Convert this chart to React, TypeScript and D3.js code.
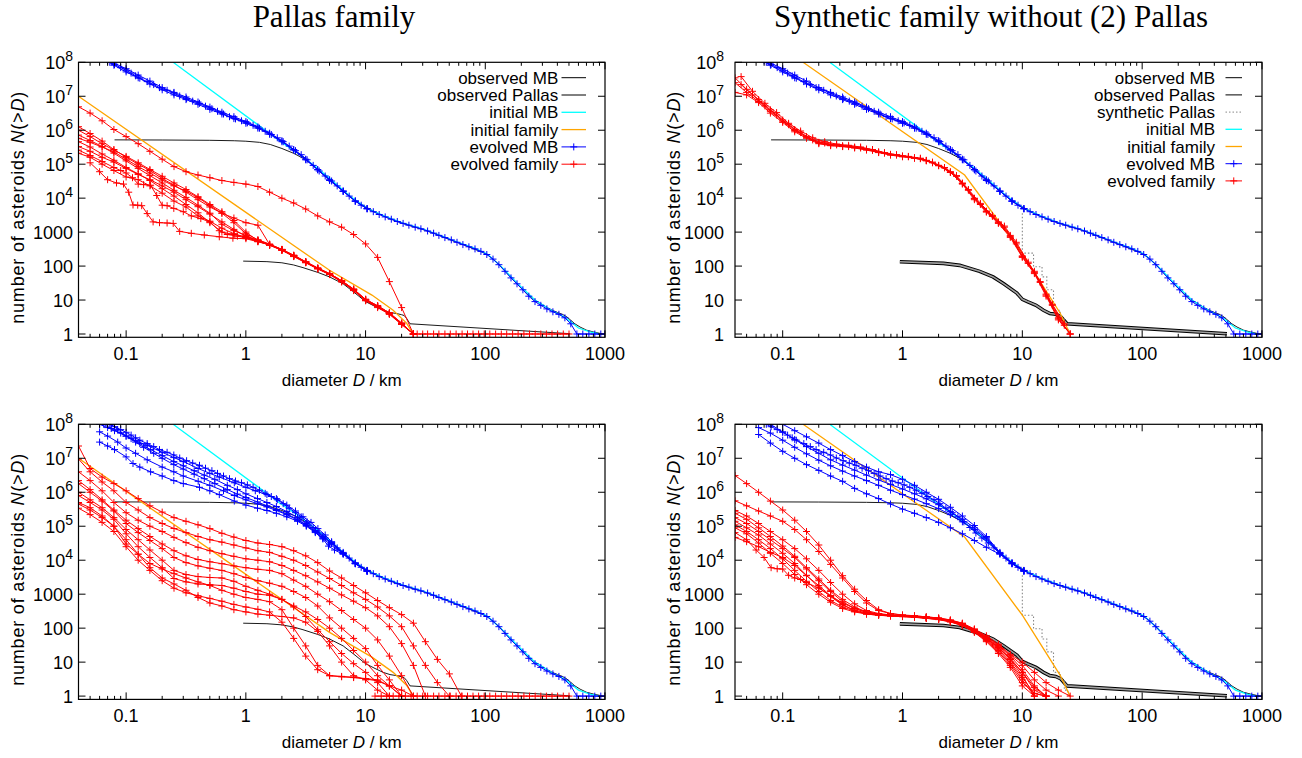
import React from "react";
import * as d3 from "d3";

type Pt = [number, number];

// ---------- shared grids (diameters, km) ----------
const gridR = [0.04, 0.05, 0.063, 0.079, 0.1, 0.126, 0.158, 0.2, 0.251, 0.316, 0.398, 0.501, 0.631, 0.794, 1, 1.26, 1.58, 2, 2.51, 3.16, 3.98, 5.01, 6.31, 7.94, 10, 12.6, 15.8, 20, 25.1, 31.6, 39.8, 50.1, 63.1];
const gridH = [0.045, 0.056, 0.071, 0.089, 0.112, 0.141, 0.178, 0.224, 0.282, 0.355, 0.447, 0.562, 0.708, 0.891, 1.12, 1.41, 1.78, 2.24, 2.82, 3.55, 4.47, 5.62, 7.08, 8.91, 11.2, 14.1, 17.8, 22.4];
const onGrid = (grid: number[], ns: number[]): Pt[] => ns.map((n, i) => [grid[i], n] as Pt);

// ---------- tick labels ----------
const xMajorTicks = [0.1, 1, 10, 100, 1000];
const xTickLabels = ["0.1", "1", "10", "100", "1000"];
const yMajorTicks = [1, 10, 100, 1000, 1e4, 1e5, 1e6, 1e7, 1e8];
const yTickExp = [0, 1, 2, 3, 4, 5, 6, 7, 8];

// ---------- common curves ----------
const observedMB: Pt[] = [[0.08,5.2e5],[0.2,5.15e5],[0.5,5.05e5],[0.8,4.9e5],[1,4.75e5],[1.3,4.4e5],[1.6,3.8e5],[2,2.9e5],[2.5,2.1e5],[3,1.5e5],[3.5,1.05e5],[4,7.3e4],[5,3.7e4],[6,2.1e4],[7,1.35e4],[8.2,8400],[10,5600],[12,3900],[15,2700],[20,1850],[25,1450],[30,1200],[40,840],[50,610],[60,480],[70,390],[80,320],[90,275],[100,235],[110,190],[120,145],[135,100],[150,65],[170,40],[200,22],[230,14],[260,10],[300,7.3],[350,5.3],[400,4.3],[440,3.8],[480,3.2],[520,2.5],[560,2],[620,1.6],[700,1.3],[800,1.15],[900,1.05],[950,1]];
const initialMB: Pt[] = [[0.247,1e8],[2.05,4.1e5],[2.9,1.8e5],[4,7.5e4],[5.2,3.4e4],[7.3,1.2e4],[10.3,5000],[14.6,2900],[20.6,1850],[29,1300],[41,830],[58,520],[82,330],[103,230],[116,160],[146,75],[184,32],[260,10],[367,4.7],[462,3.1],[518,2.3],[600,1.5],[750,1.15],[900,1]];
const observedPallas: Pt[] = [[0.95,140],[1.5,135],[2,125],[2.5,108],[3,90],[4,65],[5,48],[6.5,30],[8,17],[10,9],[12,6.5],[14,5],[16,4.3],[18.2,4],[20,3.7],[21,3.5],[22,2.9],[23.5,2],[512,1.02]];
const observedPallasR: Pt[] = [[0.95,134],[2.2,120],[3,105],[4.4,70],[5.7,48],[7,30],[9,16],[10,10.5],[11,9],[13,7],[15,5],[17,4],[19,3.8],[21,3.2],[23.6,2],[510,1.02]];
const syntheticPallas: Pt[] = [[10,3600],[10,240],[12.4,240],[12.4,96],[14.6,96],[14.6,48],[16,48],[16,20],[18.2,20],[18.2,5],[20.7,5],[20.7,3],[22.4,3],[22.4,1.5],[24,1.5],[24,1]];
const initialFamilyL: Pt[] = [[0.04,1e7],[5,75],[11.3,14],[17,5],[22,2.1],[25,1]];
const initialFamilyR: Pt[] = [[0.148,1e8],[3.3,4.8e4],[10,240],[20.7,4.1],[25,1]];

// ---------- evolved main belt ----------
const evolvedMB: Pt[] = [[0.073,1e8],[0.08,8.5e7],[0.09,7e7],[0.1,5.8e7],[0.11,4.8e7],[0.12,4e7],[0.13,3.4e7],[0.15,2.7e7],[0.17,2.2e7],[0.19,1.8e7],[0.22,1.5e7],[0.25,1.25e7],[0.28,1.02e7],[0.32,8.5e6],[0.36,7.2e6],[0.41,6.2e6],[0.46,5.1e6],[0.52,4.3e6],[0.58,3.6e6],[0.65,3e6],[0.73,2.5e6],[0.82,2.15e6],[0.92,1.9e6],[1.03,1.65e6],[1.15,1.4e6],[1.3,1.15e6],[1.45,9.3e5],[1.63,7.5e5],[1.83,6e5],[2.05,4.6e5],[2.3,3.4e5],[2.6,2.5e5],[2.9,1.9e5],[3.25,1.35e5],[3.65,9.2e4],[4.1,6.3e4],[4.6,4.5e4],[5.2,3.2e4],[5.8,2.3e4],[6.5,1.6e4],[7.3,1.15e4],[8.2,8200],[9.2,6200],[10.3,4900],[11.6,4000],[13,3300],[14.6,2800],[16.4,2400],[18.4,2050],[20.6,1800],[23,1600],[26,1400],[29,1250],[33,1080],[37,930],[41,800],[46,690],[52,590],[58,500],[65,430],[73,370],[82,320],[92,270],[103,220],[116,160],[130,110],[146,70],[164,45],[184,30],[206,20],[231,13],[260,9],[291,7],[327,5.5],[367,4.5],[412,3.8],[462,3],[518,2],[582,1],[653,1],[733,1],[822,1],[923,1],[1000,1]];
const mbTopA: Pt[] = [[0.079,9.5e7],[0.1,6.5e7],[0.126,4.2e7],[0.158,2.8e7],[0.2,1.8e7],[0.251,1.3e7],[0.316,9.5e6],[0.398,6.8e6],[0.501,4.8e6],[0.631,3.4e6],[0.794,2.5e6],[1,1.8e6],[1.26,1.25e6],[1.58,8.2e5],[2,4.9e5],[2.51,2.7e5],[3.16,1.4e5],[3.98,7e4],[5.01,3.5e4],[6.5,1.6e4],[8.2,8200],[10.3,4900]];
const mbTopB: Pt[] = [[0.07,1.1e8],[0.079,8.2e7],[0.1,5.2e7],[0.126,3.5e7],[0.158,2.3e7],[0.2,1.55e7],[0.251,1.1e7],[0.316,8e6],[0.398,5.8e6],[0.501,4.1e6],[0.631,3e6],[0.794,2.2e6],[1,1.6e6],[1.26,1.15e6],[1.58,7.6e5],[2,4.6e5],[2.51,2.6e5],[3.16,1.35e5],[3.98,6.8e4],[5.01,3.3e4],[6.5,1.6e4],[8.2,8200],[10.3,4900]];
const mbBL1: Pt[] = [[0.06,1e8],[0.07,8e7],[0.08,6.5e7],[0.1,4.5e7],[0.12,3.3e7],[0.15,2.4e7],[0.2,1.5e7],[0.25,1.05e7],[0.3,8e6],[0.4,5e6],[0.5,3.6e6],[0.6,2.8e6],[0.8,1.9e6],[1,1.4e6],[1.2,1.1e6],[1.5,8.5e5],[1.8,6.5e5],[2.2,4.2e5],[2.6,2.8e5],[3,1.9e5],[3.5,1.3e5],[4,8.5e4],[4.6,5.5e4],[5.2,3.5e4],[6.5,1.7e4],[8.2,8400],[10.3,5000]];
const mbBL2: Pt[] = [[0.065,1e8],[0.075,7.5e7],[0.09,5.5e7],[0.11,3.8e7],[0.13,2.7e7],[0.16,1.8e7],[0.2,1.2e7],[0.25,8e6],[0.3,6e6],[0.37,4.3e6],[0.45,3.2e6],[0.55,2.4e6],[0.7,1.6e6],[0.85,1.2e6],[1,9e5],[1.25,6.5e5],[1.5,5e5],[1.8,3.8e5],[2.2,2.7e5],[2.7,1.8e5],[3.2,1.2e5],[3.8,7.5e4],[4.4,5e4],[5.2,3.3e4],[6.5,1.6e4],[8.2,8000],[10.3,4800]];
const mbBL3: Pt[] = [[0.075,1e8],[0.085,7e7],[0.1,4.5e7],[0.12,3e7],[0.14,2.1e7],[0.17,1.4e7],[0.2,1e7],[0.25,6.5e6],[0.3,4.8e6],[0.37,3.4e6],[0.45,2.5e6],[0.55,1.8e6],[0.7,1.2e6],[0.85,8.8e5],[1,7e5],[1.25,5.2e5],[1.5,4e5],[1.8,3.1e5],[2.2,2.3e5],[2.7,1.6e5],[3.2,1.1e5],[3.8,7e4],[4.4,4.6e4],[5.2,3.1e4],[6.5,1.55e4],[8.2,8000],[10.3,4800]];
const mbBL4: Pt[] = [[0.06,3e7],[0.07,2.3e7],[0.08,1.8e7],[0.1,1.1e7],[0.114,7e6],[0.13,5.5e6],[0.16,4e6],[0.2,3e6],[0.25,2.2e6],[0.3,1.8e6],[0.41,1.4e6],[0.5,1.1e6],[0.6,8.5e5],[0.8,5.5e5],[1,4.2e5],[1.25,3.4e5],[1.5,2.9e5],[1.8,2.4e5],[2.2,1.9e5],[2.7,1.4e5],[3.2,1e5],[3.8,6.5e4],[4.4,4.2e4],[4.9,2.6e4],[5.5,2e4],[6.5,1.5e4],[8.2,7800],[10.3,4700]];
const mbBL5: Pt[] = [[0.06,6e7],[0.07,4.5e7],[0.085,3e7],[0.1,2e7],[0.12,1.4e7],[0.15,9e6],[0.2,5.5e6],[0.25,4e6],[0.3,3e6],[0.4,2.1e6],[0.5,1.6e6],[0.65,1.1e6],[0.8,8e5],[1,6e5],[1.25,4.6e5],[1.5,3.7e5],[1.8,2.9e5],[2.2,2.2e5],[2.7,1.5e5],[3.2,1.05e5],[3.8,6.8e4],[4.4,4.4e4],[5,3e4],[6.5,1.55e4],[8.2,8000],[10.3,4800]];
const mbBR1: Pt[] = [[0.1,1e8],[0.126,6.5e7],[0.158,4.3e7],[0.2,2.8e7],[0.251,1.8e7],[0.316,1.2e7],[0.398,8e6],[0.501,5.5e6],[0.631,4e6],[0.794,3.3e6],[1,2.4e6],[1.26,1.6e6],[1.58,1e6],[2,6.2e5],[2.51,3.6e5],[3.16,2e5],[3.98,1.05e5],[5.01,5e4],[6.5,1.7e4],[8.2,8400],[10.3,5000]];
const mbBR2: Pt[] = [[0.063,5e7],[0.079,2.8e7],[0.1,1.6e7],[0.126,1e7],[0.158,6.5e6],[0.2,4.4e6],[0.251,3e6],[0.316,2.1e6],[0.398,1.3e6],[0.501,9e5],[0.631,6.5e5],[0.794,4.5e5],[1,3.2e5],[1.26,2.4e5],[1.58,1.8e5],[2,1.3e5],[2.51,9e4],[3.16,6e4],[3.98,3.8e4],[5.01,2.4e4],[6.5,1.5e4],[8.2,7800],[10.3,4700]];
const mbBR3: Pt[] = [[0.079,1e8],[0.1,6e7],[0.126,3.6e7],[0.158,2.2e7],[0.2,1.4e7],[0.251,9e6],[0.316,6.3e6],[0.398,4.5e6],[0.501,3.2e6],[0.631,2.3e6],[0.794,1.7e6],[1,1.25e6],[1.26,9e5],[1.58,6.4e5],[2,4.3e5],[2.51,2.7e5],[3.16,1.6e5],[3.98,9e4],[5.01,4.6e4],[6.5,1.6e4],[8.2,8200],[10.3,4900]];
const mbBR4: Pt[] = [[0.063,8e7],[0.079,5.5e7],[0.1,3.4e7],[0.126,2.1e7],[0.158,1.35e7],[0.2,8.8e6],[0.251,6e6],[0.316,4.2e6],[0.398,3e6],[0.501,2.2e6],[0.631,1.6e6],[0.794,1.15e6],[1,8.5e5],[1.26,6.3e5],[1.58,4.6e5],[2,3.3e5],[2.51,2.2e5],[3.16,1.35e5],[3.98,8e4],[5.01,4.2e4],[6.5,1.55e4],[8.2,8000],[10.3,4800]];

// ---------- evolved family, top-left ----------
const famTL1 = [4.9e6,3.2e6,1.9e6,1.05e6,6.5e5,4e5,2.4e5,1.4e5,8.5e4,6e4,4.8e4,4e4,3.3e4,2.9e4,2.6e4,2.2e4,1.5e4,1e4,7200,4800,3000,2000,1400,850,450,180,35,6,1];
const famTL2 = [1.27e6,8e5,4.8e5,2.7e5,1.6e5,1e5,6.5e4,3.8e4,2.4e4,1.5e4,9000,5500,3600,2600,1900,1600,430,310,210,135,88,60,37,21,10.5,6.8,4.2,2.1,1];
const famTL3 = [1e6,6.5e5,4e5,2.6e5,1.7e5,1.1e5,7e4,4.4e4,2.8e4,1.8e4,1.1e4,6500,4000,2200,1000,560,430,300,200,130,85,58,36,20,10,6.5,4,2,1];
const famTL4 = [7.2e5,5e5,3.3e5,2.1e5,1.25e5,7.5e4,4.6e4,2.8e4,1.7e4,1.05e4,6200,3600,1700,1100,800,560,410,290,190,125,82,56,34,19,9.5,6,3.8,1.9,1];
const famTL5 = [5.8e5,4.4e5,3.2e5,2.3e5,1.4e5,8.5e4,5.5e4,3.4e4,2.3e4,1.6e4,1.05e4,6000,3600,1900,900,600,440,310,205,135,88,60,37,21,10.5,6.8,4.2,2.1,1];
const famTL6 = [4.6e5,3.2e5,2e5,1.3e5,8e4,5.2e4,3.3e4,1.9e4,1.15e4,6500,3700,1900,1000,850,720,580,440,305,200,130,85,58,36,20,10,6.5,4,2,1];
const famTL7 = [3.3e5,2.4e5,1.6e5,1.15e5,7.5e4,5e4,3.5e4,2.3e4,1.5e4,9000,5600,3400,2000,1200,760,560,420,295,195,128,84,57,35,19.5,10,6.3,3.9,1.95,1];
const famTL8 = [2.1e5,1.6e5,1e5,6.5e4,4.2e4,3.5e4,2.3e4,1.4e4,8200,5500,3000,2100,1300,900,700,540,415,298,198,130,85,58,36,20,10,6.5,4,2,1];
const famTL9: Pt[] = [[0.05,1.1e5],[0.06,6e4],[0.07,3.5e4],[0.083,2.8e4],[0.095,2.6e4],[0.105,1.5e4],[0.114,6300],[0.125,6200],[0.135,6000],[0.15,3500],[0.168,2000],[0.19,1900],[0.22,1850],[0.247,1800],[0.28,1050],[0.35,920],[0.45,820],[0.6,730],[0.78,660],[1,640],[1.26,520],[1.58,420],[2,300],[2.51,200],[3.16,130],[3.98,85],[5.01,58],[6.31,36],[7.94,20],[10,10],[12.6,6.5],[15.8,4],[20,2],[25.1,1]];
const famTL10: Pt[] = [[0.04,2.6e5],[0.05,1.8e5],[0.063,1.2e5],[0.079,8e4],[0.09,6.5e4],[0.1,5.5e4],[0.113,4e4],[0.126,2.6e4],[0.14,2.5e4],[0.16,2.4e4],[0.18,1.2e4],[0.2,6200],[0.22,6000],[0.25,5000],[0.3,4000],[0.35,3000],[0.42,2500],[0.5,2000],[0.6,1100],[0.7,850],[0.85,760],[1,680],[1.26,530],[1.58,425],[2,305],[2.51,205],[3.16,132],[3.98,86],[5.01,59],[6.31,37],[7.94,20.5],[10,10.2],[12.6,6.6],[15.8,4.1],[20,2.05],[25.1,1]];
const flatTL: Pt[] = [[25.1,1],[27,1],[30,1],[33,1],[37,1],[41,1],[46,1],[51,1],[57,1],[64,1],[71,1],[79,1],[88,1],[98,1],[109,1],[122,1],[136,1],[151,1],[169,1],[188,1],[210,1],[234,1],[261,1],[291,1],[324,1],[361,1],[402,1],[448,1],[500,1]];

// ---------- evolved family, top-right ----------
const famTR1 = [3.5e7,1.6e7,8e6,4e6,2e6,1.05e6,6.5e5,4.4e5,3.8e5,3.5e5,3.2e5,2.8e5,2.3e5,1.95e5,1.75e5,1.55e5,1.3e5,9.3e4,6e4,2.8e4,1e4,4200,2000,800,200,70,15,3,1];
const famTR2 = [2.2e7,1.1e7,5.2e6,2.8e6,1.45e6,8.5e5,5.2e5,4.2e5,3.7e5,3.3e5,3e5,2.55e5,2.1e5,1.85e5,1.65e5,1.45e5,1.1e5,7.8e4,4.4e4,1.7e4,6500,2900,1400,450,120,33,7,1.8];
const famTR3 = [1.3e7,1.1e7,6.5e6,3.2e6,1.7e6,9e5,5.8e5,4e5,3.5e5,3.3e5,3e5,2.6e5,2.2e5,1.85e5,1.65e5,1.5e5,1.25e5,9e4,5.7e4,2.6e4,9000,3900,1800,700,180,60,13,2.6,1];
const famTR4 = [3.8e7,1.4e7,6.2e6,3.3e6,1.6e6,9.5e5,6e5,4.6e5,3.9e5,3.6e5,3.2e5,2.7e5,2.2e5,1.9e5,1.7e5,1.5e5,1.15e5,8e4,4.6e4,1.8e4,7000,3100,1500,500,130,35,7.5,2];
const famTR5 = [2.5e7,1.3e7,7e6,3.6e6,1.85e6,9.8e5,6.2e5,4.2e5,3.6e5,3.35e5,3.1e5,2.7e5,2.25e5,1.9e5,1.7e5,1.52e5,1.28e5,9.1e4,5.8e4,2.7e4,9700,4000,1900,750,190,65,14,2.8,1];

// ---------- evolved family, bottom-left ----------
const famBL1 = [2.3e7,5e6,2.8e6,1.8e6,1.1e6,6.5e5,4e5,2.6e5,1.8e5,1.4e5,1.1e5,8.5e4,6.2e4,4.8e4,3.8e4,3.2e4,2.9e4,2.5e4,1.9e4,1.35e4,8500,4800,3000,1800,1100,650,400,250,140,40,12,4.5,1];
const famBL2 = [9.5e6,4e6,2e6,1.1e6,5e5,3e5,1.8e5,1.2e5,8.6e4,6.5e4,5e4,4e4,3.4e4,2.8e4,2.3e4,1.9e4,1.7e4,1.3e4,1e4,7000,4500,2900,1800,1100,700,420,230,110,30,8,2.5,1];
const famBL3 = [4e6,2.2e6,1.1e6,5e5,2.5e5,1.5e5,1e5,7e4,4.7e4,3.3e4,2.4e4,1.9e4,1.55e4,1.3e4,1.1e4,1e4,9000,7000,5000,3500,2300,1500,950,620,400,230,110,35,8,1];
const famBL4 = [2.2e6,1.2e6,6e5,3e5,1.5e5,8.5e4,5e4,3e4,1.9e4,1.35e4,1.05e4,9000,7900,6800,6000,5400,5000,4000,2600,1700,1000,600,330,180,100,45,15,4,1];
const famBL5 = [1.8e6,1e6,5.5e5,2.8e5,1.2e5,6.5e4,3.8e4,2.2e4,1.2e4,8500,6800,5800,5000,4000,3100,2500,2100,1700,1200,800,450,200,100,50,25,8,3,1];
const famBL6 = [1e6,6e5,3.5e5,1.8e5,8e4,4e4,2e4,1e4,5000,3800,3300,3100,3000,2400,1700,1300,1000,700,450,300,180,100,50,22,10,4,2,1];
const famBL7 = [8e5,5e5,3e5,1.6e5,6e4,2.5e4,1.2e4,6000,2900,2300,2000,1900,1800,1500,1200,1000,930,700,420,220,90,40,18,9,5,2.5,1];
const famBL8 = [4.5e5,3e5,1.8e5,1e5,4e4,1.5e4,6000,3000,2000,1300,800,550,450,350,300,260,240,220,200,150,80,30,10,4,3,1.5,1];
const famBL9 = [3.4e5,2.2e5,1.3e5,7e4,2.5e4,1e4,5000,2500,1500,1100,900,750,620,500,420,360,300,150,50,15,6,4,3.7,3.5,3.3,3,2,1];
const famBL10 = [5e5,3.5e5,2e5,1e5,3e4,1.5e4,8000,5500,4000,3000,2300,1800,1300,1000,800,700,600,350,100,30,8,4,3.8,3.6,3.2,2.8,2,1.5,1];
const flatBL: Pt[] = [[12,1],[13.5,1],[15,1],[17,1],[19,1],[21.5,1],[24,1],[27,1],[30,1],[33,1],[37,1],[41,1],[46,1],[51,1],[57,1],[64,1],[71,1],[79,1],[88,1],[98,1],[109,1],[122,1],[136,1],[151,1],[169,1],[188,1],[210,1],[234,1],[261,1],[291,1],[324,1],[361,1],[402,1],[448,1],[500,1]];

// ---------- evolved family, bottom-right ----------
const famBR1 = [3.1e6,1.8e6,1e6,5.5e5,3e5,1.5e5,7e4,2.8e4,1e4,3500,1400,650,350,270,240,230,215,200,175,140,95,60,34,17,10,5,2.5,1.5,1];
const famBR2 = [5.6e5,4e5,2.8e5,2e5,1.4e5,8e4,4e4,1.8e4,7500,3000,1200,550,330,270,245,232,215,198,172,138,92,55,32,16,8,3,1.5,1];
const famBR3 = [2.9e5,2e5,1.2e5,7e4,4e4,2.2e4,1.1e4,5000,2200,1000,520,330,270,245,230,220,208,192,168,135,90,52,30,15,6,2,1];
const famBR4 = [2.4e5,1.6e5,9e4,5e4,2.6e4,1.3e4,6000,2800,1300,700,420,300,260,240,228,218,205,190,165,130,88,50,28,13,5,1.5,1];
const famBR5 = [1.8e5,1.2e5,7e4,4e4,2.2e4,1.2e4,5500,2500,1200,600,380,290,255,238,226,216,203,188,163,128,85,48,26,12,4,1];
const famBR6 = [1.4e5,9e4,5.5e4,3e4,1.6e4,8000,3600,1600,850,480,340,280,250,235,224,214,200,185,160,125,82,46,24,10,3.5,1.2,1];
const famBR7 = [1.1e5,7e4,4e4,2.2e4,1.1e4,5000,2400,1200,650,420,320,270,245,232,222,212,198,182,158,122,80,44,22,9,3,1];
const famBR8 = [9e4,6e4,3.2e4,1.6e4,8000,3800,1900,1000,580,380,300,260,240,230,220,210,196,180,155,120,78,42,20,8,2.5,1.2,1];
const famBR9: Pt[] = [[0.04,6.5e4],[0.05,4e4],[0.06,2e4],[0.07,1.2e4],[0.08,6000],[0.09,5600],[0.1,5500],[0.112,3600],[0.126,3000],[0.141,2700],[0.158,2200],[0.2,1500],[0.251,900],[0.316,550],[0.398,380],[0.501,300],[0.631,260],[0.794,240],[1,230],[1.26,220],[1.58,208],[2,193],[2.51,168],[3.16,132],[3.98,88],[5.01,50],[6.31,27],[7.94,12],[10,5],[12.6,1.8],[15.8,1]];
const famBR10 = [4.7e4,3.5e4,2.5e4,1.7e4,1.2e4,7000,3500,1800,900,500,320,260,240,226,218,208,194,178,152,118,75,40,18,7,2,1];

// ---------- styling ----------
const BLACK = "#000000", CYAN = "#00ffff", ORANGE = "#ffa500", BLUE = "#0000ff", RED = "#ff0000", GREY = "#888888";
const SANS = "'Liberation Sans', Arial, Helvetica, sans-serif";
const SERIF = "'Liberation Serif', 'Times New Roman', serif";

type Series = { d: Pt[]; c: string; w?: number; m?: boolean; dash?: string; band?: boolean };

const blueRuns = (extra: Pt[][]): Series[] => [...extra.map((d) => ({ d, c: BLUE, m: true })), { d: evolvedMB, c: BLUE, m: true }];
const redR = (ns: number[]): Series => ({ d: onGrid(gridR, ns), c: RED, m: true });
const redH = (ns: number[]): Series => ({ d: onGrid(gridH, ns), c: RED, m: true });
const redP = (d: Pt[]): Series => ({ d, c: RED, m: true });

const panels = [
  {
    key: "tl", x0: 78.5, x1: 605, y0: 62.3, y1: 337.3, labOff: 5.5, ylabX: 17,
    series: [
      { d: observedMB, c: BLACK, w: 0.9 },
      { d: observedPallas, c: BLACK, w: 0.9 },
      { d: initialMB, c: CYAN, w: 1.3 },
      { d: initialFamilyL, c: ORANGE, w: 1.3 },
      ...blueRuns([mbTopA, mbTopB]),
      ...[famTL1, famTL2, famTL3, famTL4, famTL5, famTL6, famTL7, famTL8].map(redR),
      redP(famTL9), redP(famTL10), redP(flatTL),
    ] as Series[],
    legend: { xText: 558.3, xs0: 561.5, xs1: 586, y0: 77.7, dy: 17.3, synthetic: false },
  },
  {
    key: "tr", x0: 735, x1: 1262, y0: 62.3, y1: 337.3, labOff: 11, ylabX: 673,
    series: [
      { d: observedMB, c: BLACK, w: 0.9 },
      { d: observedPallasR, c: BLACK, w: 0.9, band: true },
      { d: syntheticPallas, c: GREY, w: 1.1, dash: "1.5,2" },
      { d: initialMB, c: CYAN, w: 1.3 },
      { d: initialFamilyR, c: ORANGE, w: 1.3 },
      ...blueRuns([mbTopA, mbTopB]),
      redR(famTR1), redH(famTR2), redR(famTR3), redH(famTR4), redR(famTR5),
    ] as Series[],
    legend: { xText: 1215, xs0: 1225.5, xs1: 1242, y0: 77.7, dy: 17.2, synthetic: true },
  },
  {
    key: "bl", x0: 78.5, x1: 605, y0: 424.3, y1: 699.4, labOff: 5.5, ylabX: 17,
    series: [
      { d: observedMB, c: BLACK, w: 0.9 },
      { d: observedPallas, c: BLACK, w: 0.9 },
      { d: initialMB, c: CYAN, w: 1.3 },
      { d: initialFamilyL, c: ORANGE, w: 1.3 },
      ...blueRuns([mbBL1, mbBL2, mbBL3, mbBL4, mbBL5]),
      ...[famBL1, famBL2, famBL3, famBL4, famBL5, famBL6, famBL7, famBL8, famBL9, famBL10].map(redR),
      redP(flatBL),
    ] as Series[],
    legend: null,
  },
  {
    key: "br", x0: 735, x1: 1262, y0: 424.3, y1: 699.4, labOff: 11, ylabX: 673,
    series: [
      { d: observedMB, c: BLACK, w: 0.9 },
      { d: observedPallasR, c: BLACK, w: 0.9, band: true },
      { d: syntheticPallas, c: GREY, w: 1.1, dash: "1.5,2" },
      { d: initialMB, c: CYAN, w: 1.3 },
      { d: initialFamilyR, c: ORANGE, w: 1.3 },
      ...blueRuns([mbBR1, mbBR2, mbBR3, mbBR4]),
      ...[famBR1, famBR2, famBR3, famBR4, famBR5, famBR6, famBR7, famBR8].map(redR),
      redP(famBR9), redR(famBR10),
    ] as Series[],
    legend: null,
  },
];

const legendItemsL = [
  { t: "observed MB", c: BLACK, m: false, dash: undefined as string | undefined },
  { t: "observed Pallas", c: BLACK, m: false, dash: undefined },
  { t: "initial MB", c: CYAN, m: false, dash: undefined },
  { t: "initial family", c: ORANGE, m: false, dash: undefined },
  { t: "evolved MB", c: BLUE, m: true, dash: undefined },
  { t: "evolved family", c: RED, m: true, dash: undefined },
];
const legendItemsR = [
  legendItemsL[0], legendItemsL[1],
  { t: "synthetic Pallas", c: GREY, m: false, dash: "1.5,2" },
  legendItemsL[2], legendItemsL[3], legendItemsL[4], legendItemsL[5],
];

function Panel({ p }: { p: (typeof panels)[number] }) {
  const xs = d3.scaleLog().domain([0.04, 1000]).range([p.x0, p.x1]);
  const ys = d3.scaleLog().domain([0.8, 1e8]).range([p.y1, p.y0]);
  const line = d3.line<Pt>().x((d) => xs(d[0])).y((d) => ys(d[1]));
  const S = 3.5;
  const plus = (pts: Pt[]) =>
    pts
      .map(([d, n]) => {
        const x = xs(d), y = ys(n);
        return `M${(x - S).toFixed(1)},${y.toFixed(1)}h${2 * S}M${x.toFixed(1)},${(y - S).toFixed(1)}v${2 * S}`;
      })
      .join("");
  const clipId = `clip-${p.key}`;
  const minor = xs.ticks().filter((t) => !xMajorTicks.some((m) => Math.abs(m - t) / m < 1e-6) && t > 0.0401 && t < 999);
  const midY = (p.y0 + p.y1) / 2;
  const items = p.legend ? (p.legend.synthetic ? legendItemsR : legendItemsL) : [];
  return (
    <g>
      <defs>
        <clipPath id={clipId}>
          <rect x={p.x0} y={p.y0} width={p.x1 - p.x0} height={p.y1 - p.y0} />
        </clipPath>
      </defs>
      <g clipPath={`url(#${clipId})`} fill="none">
        {p.series.map((s, i) => (
          <g key={i}>
            {s.band ? (
              <>
                <path d={line(s.d) || ""} stroke={BLACK} strokeWidth={3.6} />
                <path d={line(s.d) || ""} stroke="#a0a0a0" strokeWidth={1.6} />
              </>
            ) : (
              <path d={line(s.d) || ""} stroke={s.c} strokeWidth={s.w ?? 1} strokeDasharray={s.dash} />
            )}
            {s.m && <path d={plus(s.d)} stroke={s.c} strokeWidth={1} />}
          </g>
        ))}
      </g>
      {/* frame */}
      <rect x={p.x0} y={p.y0} width={p.x1 - p.x0} height={p.y1 - p.y0} fill="none" stroke={BLACK} strokeWidth={1.2} />
      {/* ticks */}
      <g stroke={BLACK} strokeWidth={1}>
        {xMajorTicks.map((t) => (
          <g key={`xM${t}`}>
            <line x1={xs(t)} x2={xs(t)} y1={p.y1} y2={p.y1 - 7} />
            <line x1={xs(t)} x2={xs(t)} y1={p.y0} y2={p.y0 + 7} />
          </g>
        ))}
        {minor.map((t) => (
          <g key={`xm${t}`}>
            <line x1={xs(t)} x2={xs(t)} y1={p.y1} y2={p.y1 - 3.5} />
            <line x1={xs(t)} x2={xs(t)} y1={p.y0} y2={p.y0 + 3.5} />
          </g>
        ))}
        {yMajorTicks.map((t) => (
          <g key={`yM${t}`}>
            <line x1={p.x0} x2={p.x0 + 7} y1={ys(t)} y2={ys(t)} />
            <line x1={p.x1} x2={p.x1 - 7} y1={ys(t)} y2={ys(t)} />
          </g>
        ))}
      </g>
      {/* tick labels */}
      <g fontFamily={SANS} fontSize={18} fill={BLACK}>
        {xMajorTicks.map((t, i) => (
          <text key={`xl${t}`} x={xs(t)} y={p.y1 + 23} textAnchor="middle">
            {xTickLabels[i]}
          </text>
        ))}
        {yMajorTicks.map((t, i) => {
          const e = yTickExp[i];
          return (
            <text key={`yl${t}`} x={p.x0 - p.labOff} y={ys(t) + 6.5} textAnchor="end">
              {e <= 3 ? String(t) : (
                <>
                  10<tspan dy={-7.5} fontSize={14}>{e}</tspan>
                </>
              )}
            </text>
          );
        })}
      </g>
      {/* axis labels */}
      <text x={(p.x0 + p.x1) / 2} y={p.y1 + 49} textAnchor="middle" fontFamily={SANS} fontSize={17}>
        diameter <tspan fontStyle="italic">D</tspan> / km
      </text>
      <text
        transform={`translate(${p.ylabX + 6.5},${midY + 8}) rotate(-90)`}
        textAnchor="middle"
        fontFamily={SANS}
        fontSize={18}
        textLength={232}
        lengthAdjust="spacing"
      >
        number of asteroids <tspan fontStyle="italic">N</tspan>(&gt;<tspan fontStyle="italic">D</tspan>)
      </text>
      {/* legend */}
      {p.legend && (
        <g fontFamily={SANS} fontSize={17}>
          {items.map((it, i) => {
            const y = p.legend!.y0 + i * p.legend!.dy;
            const xm = (p.legend!.xs0 + p.legend!.xs1) / 2;
            return (
              <g key={it.t}>
                <text x={p.legend!.xText} y={y + 6} textAnchor="end">
                  {it.t}
                </text>
                <line x1={p.legend!.xs0} x2={p.legend!.xs1} y1={y} y2={y} stroke={it.c} strokeWidth={it.c === CYAN || it.c === ORANGE ? 1.3 : 1} strokeDasharray={it.dash} />
                {it.m && <path d={`M${xm - S},${y}h${2 * S}M${xm},${y - S}v${2 * S}`} stroke={it.c} strokeWidth={1} />}
              </g>
            );
          })}
        </g>
      )}
    </g>
  );
}

export default function App() {
  return (
    <svg
      width={1302}
      height={758}
      viewBox="0 0 1302 758"
      style={{ position: "absolute", left: 0, top: 0, background: "#ffffff" }}
    >
      <rect x={0} y={0} width={1302} height={758} fill="#ffffff" />
      <text x={334} y={27} textAnchor="middle" fontFamily={SERIF} fontSize={31}>
        Pallas family
      </text>
      <text x={991} y={27} textAnchor="middle" fontFamily={SERIF} fontSize={31}>
        Synthetic family without (2) Pallas
      </text>
      {panels.map((p) => (
        <Panel key={p.key} p={p} />
      ))}
    </svg>
  );
}
